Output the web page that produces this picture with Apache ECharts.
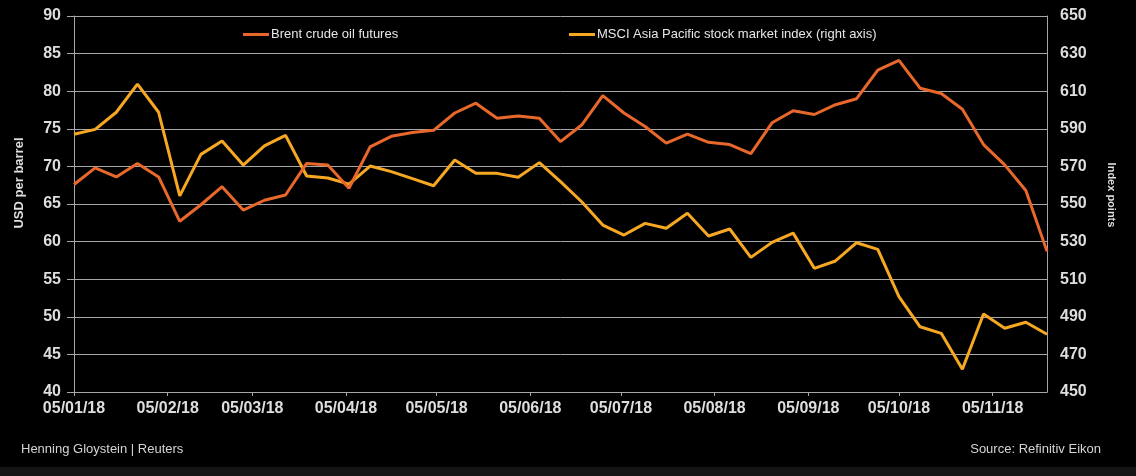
<html>
  <head>
    <meta charset="utf-8" />
    <title>Brent crude oil futures vs MSCI Asia Pacific</title>
    <script src="https://cdn.jsdelivr.net/npm/echarts@6/dist/echarts.min.js"></script>
    <style>
      body {
        margin: 0;
        padding: 0;
        background: #000;
      }
      #chart {
        width: 1136px;
        height: 476px;
      }
    </style>
  </head>
  <body>
    <div id="chart"></div>
    <script type="text/javascript">
      // weekly closes (Fridays)
      var dates = [
        '2018-01-05', '2018-01-12', '2018-01-19', '2018-01-26',
        '2018-02-02', '2018-02-09', '2018-02-16', '2018-02-23',
        '2018-03-02', '2018-03-09', '2018-03-16', '2018-03-23', '2018-03-30',
        '2018-04-06', '2018-04-13', '2018-04-20', '2018-04-27',
        '2018-05-04', '2018-05-11', '2018-05-18', '2018-05-25',
        '2018-06-01', '2018-06-08', '2018-06-15', '2018-06-22', '2018-06-29',
        '2018-07-06', '2018-07-13', '2018-07-20', '2018-07-27',
        '2018-08-03', '2018-08-10', '2018-08-17', '2018-08-24', '2018-08-31',
        '2018-09-07', '2018-09-14', '2018-09-21', '2018-09-28',
        '2018-10-05', '2018-10-12', '2018-10-19', '2018-10-26',
        '2018-11-02', '2018-11-09', '2018-11-16', '2018-11-23'
      ];
      var brent = [
        67.6, 69.8, 68.6, 70.4, 68.6, 62.7, 64.9, 67.3, 64.2, 65.5,
        66.2, 70.4, 70.2, 67.1, 72.6, 74.0, 74.5, 74.8, 77.1, 78.4,
        76.4, 76.7, 76.4, 73.3, 75.5, 79.4, 77.1, 75.3, 73.1, 74.3,
        73.2, 72.9, 71.7, 75.8, 77.4, 76.9, 78.2, 79.0, 82.8, 84.1,
        80.4, 79.7, 77.6, 72.9, 70.2, 66.8, 58.7
      ];
      var msci = [
        587.1, 589.7, 598.8, 613.8, 598.8, 554.3, 576.4, 583.5, 570.7, 580.9,
        586.5, 564.9, 563.8, 560.6, 570.2, 567.2, 563.5, 559.7, 573.4, 566.3,
        566.3, 564.2, 572.0, 561.9, 551.2, 538.8, 533.5, 539.7, 537.1, 545.1,
        533.0, 536.7, 521.6, 529.6, 534.5, 515.8, 519.7, 529.4, 525.9, 500.7,
        484.7, 481.2, 462.1, 491.5, 483.9, 487.1, 480.7
      ];
      var tickDates = [
        '2018-01-05', '2018-02-05', '2018-03-05', '2018-04-05', '2018-05-05', '2018-06-05',
        '2018-07-05', '2018-08-05', '2018-09-05', '2018-10-05', '2018-11-05'
      ];

      var font = "'Liberation Sans', Arial, sans-serif";
      var grey = '#a6a6a6';
      var labelColor = '#dedede';

      function toTime(s) {
        var p = s.split('-');
        return new Date(+p[0], +p[1] - 1, +p[2]).getTime();
      }
      function pad(n) {
        return n < 10 ? '0' + n : '' + n;
      }

      var tickTimes = tickDates.map(toTime);
      var brentData = dates.map(function (d, i) {
        return [toTime(d), brent[i]];
      });
      var msciData = dates.map(function (d, i) {
        return [toTime(d), msci[i]];
      });

      var chart = echarts.init(document.getElementById('chart'), null, { width: 1136, height: 476 });

      var option = {
        backgroundColor: '#000',
        animation: false,
        grid: { left: 74, right: 89, top: 16, bottom: 84 },
        legend: [
          {
            data: ['Brent crude oil futures'],
            left: 243,
            top: 28,
            padding: 0,
            icon: 'rect',
            itemWidth: 26,
            itemHeight: 3,
            textStyle: { color: '#e6e6e6', fontSize: 13, fontFamily: font, padding: [0, 0, 0, -3] }
          },
          {
            data: ['MSCI Asia Pacific stock market index (right axis)'],
            left: 569,
            top: 28,
            padding: 0,
            icon: 'rect',
            itemWidth: 26,
            itemHeight: 3,
            textStyle: { color: '#e6e6e6', fontSize: 13, fontFamily: font, padding: [0, 0, 0, -3] }
          }
        ],
        xAxis: {
          type: 'value',
          min: toTime(dates[0]),
          max: toTime(dates[dates.length - 1]),
          axisLine: { lineStyle: { color: grey, width: 1 } },
          axisTick: { show: true, customValues: tickTimes, length: 4, lineStyle: { color: grey } },
          axisLabel: {
            customValues: tickTimes,
            color: labelColor,
            fontSize: 16,
            fontWeight: 'bold',
            fontFamily: font,
            margin: 9,
            formatter: function (v) {
              var d = new Date(v);
              return pad(d.getDate()) + '/' + pad(d.getMonth() + 1) + '/' + String(d.getFullYear()).slice(2);
            }
          },
          splitLine: { show: false }
        },
        yAxis: [
          {
            type: 'value',
            min: 40,
            max: 90,
            interval: 5,
            axisLine: { show: true, lineStyle: { color: grey, width: 1 } },
            axisTick: { show: true, length: 7, lineStyle: { color: grey } },
            axisLabel: { color: labelColor, fontSize: 16, fontWeight: 'bold', fontFamily: font, margin: 13 },
            splitLine: { show: true, lineStyle: { color: grey, width: 1 } }
          },
          {
            type: 'value',
            position: 'right',
            min: 450,
            max: 650,
            interval: 20,
            axisLine: { show: true, lineStyle: { color: grey, width: 1 } },
            axisTick: { show: false },
            axisLabel: { color: labelColor, fontSize: 16, fontWeight: 'bold', fontFamily: font, margin: 13 },
            splitLine: { show: false }
          }
        ],
        series: [
          {
            name: 'MSCI Asia Pacific stock market index (right axis)',
            type: 'line',
            yAxisIndex: 1,
            showSymbol: false,
            color: '#f7a823',
            lineStyle: { width: 3, color: '#f7a823' },
            data: msciData
          },
          {
            name: 'Brent crude oil futures',
            type: 'line',
            yAxisIndex: 0,
            showSymbol: false,
            color: '#e8672a',
            lineStyle: { width: 3, color: '#e8672a' },
            data: brentData
          }
        ],
        graphic: [
          {
            type: 'text',
            x: 19,
            y: 183,
            rotation: Math.PI / 2,
            style: {
              text: 'USD per barrel',
              fill: labelColor,
              font: 'bold 13px ' + font,
              textAlign: 'center',
              textVerticalAlign: 'middle'
            }
          },
          {
            type: 'text',
            x: 1111,
            y: 195,
            rotation: -Math.PI / 2,
            style: {
              text: 'Index points',
              fill: labelColor,
              font: 'bold 11px ' + font,
              textAlign: 'center',
              textVerticalAlign: 'middle'
            }
          },
          {
            type: 'text',
            left: 21,
            top: 443,
            style: { text: 'Henning Gloystein | Reuters', fill: '#d4d4d4', font: '13px ' + font }
          },
          {
            type: 'text',
            right: 35,
            top: 443,
            style: { text: 'Source: Refinitiv Eikon', fill: '#d4d4d4', font: '13px ' + font }
          },
          {
            type: 'rect',
            left: 0,
            top: 467,
            shape: { width: 1136, height: 9 },
            style: { fill: '#151515' },
            z: -1
          }
        ]
      };

      chart.setOption(option);
    </script>
  </body>
</html>
